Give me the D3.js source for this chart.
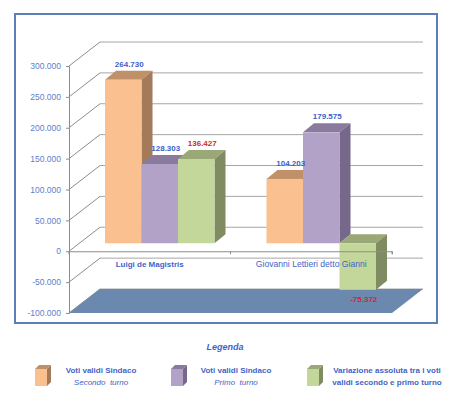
<!DOCTYPE html>
<html>
<head>
<meta charset="utf-8">
<script src="https://cdn.jsdelivr.net/npm/d3@7"></script>
<style>
  body { margin: 0; background: #fff; }
  text { font-family: "Liberation Sans", Arial, sans-serif; }
</style>
</head>
<body>
<div id="chart"></div>
<script>
// data
var categories = ["Luigi de Magistris", "Giovanni Lettieri detto Gianni"];
var seriesNames = ["Voti validi Sindaco", "Voti validi Sindaco", "Variazione assoluta tra i voti"];
var seriesSub = ["Secondo  turno", "Primo  turno", "validi secondo e primo turno"];
var secondoTurno = [264730, 104203];
var primoTurno = [128303, 179575];
var variazione = [136427, -75372];
var yTicks = [-100000, -50000, 0, 50000, 100000, 150000, 200000, 250000, 300000];

var series = [secondoTurno, primoTurno, variazione];
var colors = [
  {front: "#fac08f", side: "#a47a58", top: "#c09069"},
  {front: "#b3a2c7", side: "#76688a", top: "#8a7b9e"},
  {front: "#c4d79b", side: "#7f8b60", top: "#9aa777"}
];

var W = 450, H = 403;
var svg = d3.select("#chart").append("svg")
  .attr("width", W).attr("height", H);

// frame
svg.append("rect")
  .attr("x", 16).attr("y", 15).attr("width", 422).attr("height", 309)
  .attr("fill", "#e4e9f0");
svg.append("rect")
  .attr("x", 15).attr("y", 14).attr("width", 422).attr("height", 309)
  .attr("fill", "#fff").attr("stroke", "#5b80b8").attr("stroke-width", 2);

var x0 = 69, x1 = 392;
var depth = {dx: 31, dy: -24};
var y = d3.scaleLinear().domain([-100000, 300000]).range([313, 66]);
var x = d3.scaleBand().domain(categories).range([x0, x1]);
var xs = d3.scaleBand().domain(d3.range(series.length))
  .range([26, x.bandwidth() - 26]);

var loc = d3.formatLocale({decimal: ",", thousands: ".", grouping: [3], currency: ["", ""], minus: "-"});
var fmt = loc.format(",d");

// back wall grid lines
svg.selectAll(".grid").data(yTicks).enter().append("line")
  .attr("x1", x0 + depth.dx).attr("x2", 423)
  .attr("y1", function(d) { return y(d) + depth.dy; })
  .attr("y2", function(d) { return y(d) + depth.dy; })
  .attr("stroke", "#a6a6a6").attr("stroke-width", 1);

// side wall lines
svg.selectAll(".side").data(yTicks).enter().append("line")
  .attr("x1", x0).attr("y1", function(d) { return y(d); })
  .attr("x2", x0 + depth.dx).attr("y2", function(d) { return y(d) + depth.dy; })
  .attr("stroke", "#8c8c8c").attr("stroke-width", 1);

// value axis
var yAxis = d3.axisLeft(y).tickValues(yTicks).tickSize(3).tickFormat(fmt);
var ga = svg.append("g").attr("transform", "translate(" + x0 + ",0)").call(yAxis);
ga.select(".domain").attr("stroke", "#8c8c8c");
ga.selectAll(".tick line").attr("stroke", "#8c8c8c");
ga.selectAll(".tick text")
  .attr("x", -8)
  .attr("fill", "#5b7fcb")
  .style("font-size", "8.5px")
  .style("font-family", "Liberation Sans, Arial, sans-serif");

// floor
var fy = y(-100000);
svg.append("path")
  .attr("d", "M" + x0 + "," + fy + "L" + x1 + "," + fy +
    "L" + (x1 + depth.dx) + "," + (fy + depth.dy) +
    "L" + (x0 + depth.dx) + "," + (fy + depth.dy) + "Z")
  .attr("fill", "#6b88ae");

// bars
var off = {dx: 10, dy: -8};
var bd = {dx: 11, dy: -9};
var bars = [];
categories.forEach(function(c, i) {
  series.forEach(function(s, j) {
    bars.push({cat: c, s: j, v: s[i]});
  });
});

var gb = svg.append("g");
bars.forEach(function(b) {
  var bx = x(b.cat) + xs(b.s) + off.dx;
  var bw = xs.bandwidth();
  var yt = Math.min(y(b.v), y(0)) + off.dy;
  var yb = Math.max(y(b.v), y(0)) + off.dy;
  var col = colors[b.s];
  b.bx = bx; b.bw = bw; b.yt = yt; b.yb = yb;
  gb.append("path")
    .attr("d", "M" + bx + "," + yt + "L" + (bx + bd.dx) + "," + (yt + bd.dy) +
      "L" + (bx + bw + bd.dx) + "," + (yt + bd.dy) + "L" + (bx + bw) + "," + yt + "Z")
    .attr("fill", col.top);
  gb.append("path")
    .attr("d", "M" + (bx + bw) + "," + yt + "L" + (bx + bw + bd.dx) + "," + (yt + bd.dy) +
      "L" + (bx + bw + bd.dx) + "," + (yb + bd.dy) + "L" + (bx + bw) + "," + yb + "Z")
    .attr("fill", col.side);
  gb.append("rect")
    .attr("x", bx).attr("y", yt).attr("width", bw).attr("height", yb - yt)
    .attr("fill", col.front);
});

// category axis
var xAxis = d3.axisBottom(x).tickSize(3).tickFormat("");
var gx = svg.append("g").attr("transform", "translate(0," + y(0) + ")").call(xAxis);
gx.select(".domain").attr("stroke", "#8c8c8c");
gx.selectAll(".tick").remove();
gx.selectAll(".edge").data(d3.range(categories.length + 1)).enter().append("line")
  .attr("x1", function(d) { return x0 + d * x.bandwidth(); })
  .attr("x2", function(d) { return x0 + d * x.bandwidth(); })
  .attr("y1", 0).attr("y2", 3).attr("stroke", "#8c8c8c");

svg.selectAll(".cat").data(categories).enter().append("text")
  .attr("x", function(d) { return x(d) + x.bandwidth() / 2; })
  .attr("y", y(0) + 16)
  .attr("text-anchor", "middle")
  .attr("fill", "#3f64c8")
  .style("font-size", function(d, i) { return i == 0 ? "8px" : "8.6px"; })
  .style("font-weight", function(d, i) { return i == 0 ? "bold" : "normal"; })
  .text(function(d) { return d; });

// value labels
bars.forEach(function(b) {
  var neg = b.v < 0;
  svg.append("text")
    .attr("x", b.bx + b.bw / 2 + 6)
    .attr("y", neg ? b.yb + 12 : b.yt + bd.dy - 4)
    .attr("text-anchor", "middle")
    .attr("fill", b.s == 2 ? "#d02a2a" : "#3a5fcd")
    .style("font-size", "8px")
    .style("font-weight", "bold")
    .text(fmt(b.v));
});

// legend
svg.append("text")
  .attr("x", 225).attr("y", 350)
  .attr("text-anchor", "middle")
  .attr("fill", "#3f64c8")
  .style("font-size", "9px").style("font-weight", "bold").style("font-style", "italic")
  .text("Legenda");

var legX = [35, 171, 307];
var legT = [101, 236, 387];
seriesNames.forEach(function(n, i) {
  var lx = legX[i], ly = 369, col = colors[i];
  svg.append("path")
    .attr("d", "M" + lx + "," + ly + "l4,-4h12l-4,4Z").attr("fill", col.top);
  svg.append("path")
    .attr("d", "M" + (lx + 12) + "," + ly + "l4,-4v17l-4,4Z").attr("fill", col.side);
  svg.append("rect").attr("x", lx).attr("y", ly).attr("width", 12).attr("height", 17)
    .attr("fill", col.front);
  svg.append("text")
    .attr("x", legT[i]).attr("y", 373)
    .attr("text-anchor", "middle").attr("fill", "#3f64c8")
    .style("font-size", "8px").style("font-weight", "bold")
    .text(n);
  svg.append("text")
    .attr("x", legT[i]).attr("y", 385)
    .attr("text-anchor", "middle").attr("fill", "#3f64c8")
    .style("font-size", "8px")
    .style("font-style", i == 2 ? "normal" : "italic")
    .style("font-weight", i == 2 ? "bold" : "normal")
    .style("white-space", "pre")
    .text(seriesSub[i]);
});
</script>
</body>
</html>
